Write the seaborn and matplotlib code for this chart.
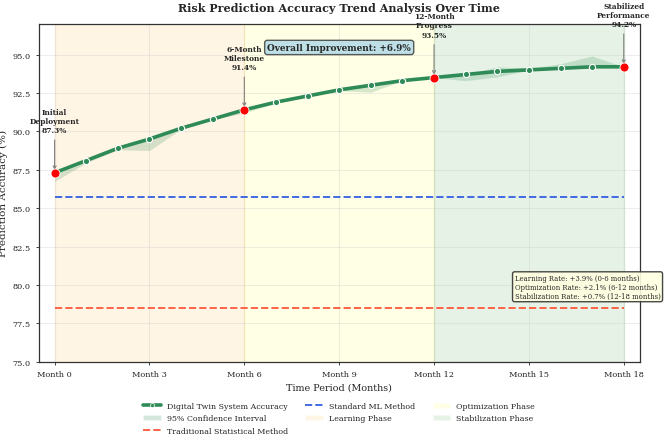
import matplotlib
matplotlib.use("Agg")
import matplotlib.pyplot as plt
import seaborn as sns
import numpy as np
import pandas as pd
from matplotlib.patches import Patch
from matplotlib.lines import Line2D

# ---- data ----
months = list(range(19))
accuracy = [87.3, 88.1, 88.9, 89.5, 90.2, 90.8, 91.4, 91.9, 92.3, 92.7, 93.0,
            93.3, 93.5, 93.7, 93.9, 94.0, 94.1, 94.2, 94.2]
ci_lower = [86.75, 87.95, 88.8, 88.75, 90.15, 90.75, 91.2, 91.85, 92.3, 92.65, 92.55,
            93.3, 93.5, 93.3, 93.55, 94.0, 94.1, 94.2, 94.2]
ci_upper = [87.3, 88.1, 88.9, 89.5, 90.3, 90.9, 91.45, 91.9, 92.3, 92.7, 93.0,
            93.3, 93.5, 93.7, 94.2, 94.1, 94.4, 94.9, 94.2]
standard_ml = 85.7
traditional = 78.5
tick_months = [0, 3, 6, 9, 12, 15, 18]
tick_labels = [f"Month {m}" for m in tick_months]
key_months = [0, 6, 12, 18]
key_labels = ["Initial\nDeployment\n87.3%", "6-Month\nMilestone\n91.4%",
              "12-Month\nProgress\n93.5%", "Stabilized\nPerformance\n94.2%"]
phases = [("Learning Phase", 0, 6, "orange"),
          ("Optimization Phase", 6, 12, "yellow"),
          ("Stabilization Phase", 12, 18, "green")]

df = pd.DataFrame({"month": months, "accuracy": accuracy})

sns.set_style("whitegrid")
plt.rcParams["font.family"] = ["DejaVu Serif"]

fig = plt.figure(figsize=(6.69, 4.35), dpi=100)
ax = fig.add_axes([0.058, 0.166, 0.898, 0.777])

span_handles = {}
for name, a, b, c in phases:
    ax.axvspan(a, b, color=c, alpha=0.1, zorder=0)
    span_handles[name] = Patch(facecolor=c, alpha=0.1, label=name)

ax.fill_between(months, ci_lower, ci_upper, color="#2E8B57", alpha=0.2,
                linewidth=0, zorder=2)
sns.lineplot(data=df, x="month", y="accuracy", ax=ax, color="#2E8B57",
             linewidth=2.6, marker="o", markersize=4.5, markeredgecolor="white",
             markeredgewidth=0.8, zorder=4)

ax.plot(months, [traditional] * len(months), color="#FF6347", linestyle="--",
        linewidth=1.4, zorder=3)
ax.plot(months, [standard_ml] * len(months), color="#4169E1", linestyle="--",
        linewidth=1.4, zorder=3)

key_vals = [accuracy[m] for m in key_months]
ax.scatter(key_months, key_vals, s=42, color="red", edgecolor="white",
           linewidth=0.6, zorder=6)
for m, v, lab in zip(key_months, key_vals, key_labels):
    ax.annotate(lab, xy=(m, v), xytext=(0, 28), textcoords="offset points",
                ha="center", va="bottom", fontsize=5.4, fontweight="bold",
                arrowprops=dict(arrowstyle="->", color="gray", lw=0.8),
                annotation_clip=False)

ax.text(0.5, 0.93, "Overall Improvement: +6.9%", transform=ax.transAxes,
        ha="center", va="center", fontsize=6.4, fontweight="bold",
        bbox=dict(boxstyle="round,pad=0.3", facecolor="lightblue", alpha=0.8,
                  edgecolor="#333333"))

ax.text(0.792, 0.222,
        "Learning Rate: +3.9% (0-6 months)\nOptimization Rate: +2.1% (6-12 months)\n"
        "Stabilization Rate: +0.7% (12-18 months)",
        transform=ax.transAxes, ha="left", va="center", fontsize=4.95,
        linespacing=1.15,
        bbox=dict(boxstyle="round,pad=0.3", facecolor="lightyellow", alpha=0.9,
                  edgecolor="#333333"), clip_on=False, zorder=7)

ax.set_xlim(-0.5, 18.5)
ax.set_ylim(75, 97)
ax.set_xticks(tick_months)
ax.set_xticklabels(tick_labels)
ax.set_yticks([75.0, 77.5, 80.0, 82.5, 85.0, 87.5, 90.0, 92.5, 95.0])
ax.yaxis.set_major_formatter(matplotlib.ticker.FormatStrFormatter("%.1f"))
ax.tick_params(labelsize=5.9, length=2.5, width=0.6, colors="#222222",
               bottom=True, left=True)
ax.grid(True, alpha=0.35)
for s in ax.spines.values():
    s.set_color("#333333")
    s.set_linewidth(0.9)

ax.set_xlabel("Time Period (Months)", fontsize=6.9, labelpad=3)
ax.set_ylabel("Prediction Accuracy (%)", fontsize=7.5, labelpad=3)
ax.set_title("Risk Prediction Accuracy Trend Analysis Over Time", fontsize=8,
             fontweight="bold", pad=9)

handles = [
    Line2D([], [], color="#2E8B57", linewidth=2.6, marker="o", markersize=3,
           markeredgecolor="white", markeredgewidth=0.5),
    Patch(facecolor="#2E8B57", alpha=0.2),
    Line2D([], [], color="#FF6347", linestyle="--", linewidth=1.4),
    Line2D([], [], color="#4169E1", linestyle="--", linewidth=1.4),
    span_handles["Learning Phase"],
    span_handles["Optimization Phase"],
    span_handles["Stabilization Phase"],
]
labels = ["Digital Twin System Accuracy", "95% Confidence Interval",
          "Traditional Statistical Method", "Standard ML Method",
          "Learning Phase", "Optimization Phase", "Stabilization Phase"]
ax.legend(handles, labels, loc="upper center", bbox_to_anchor=(0.5, -0.103),
          ncol=3, frameon=False, fontsize=5.7, handlelength=2.2,
          columnspacing=2.2, labelspacing=0.55, borderpad=0.2)

fig.savefig("out.png", dpi=100)
